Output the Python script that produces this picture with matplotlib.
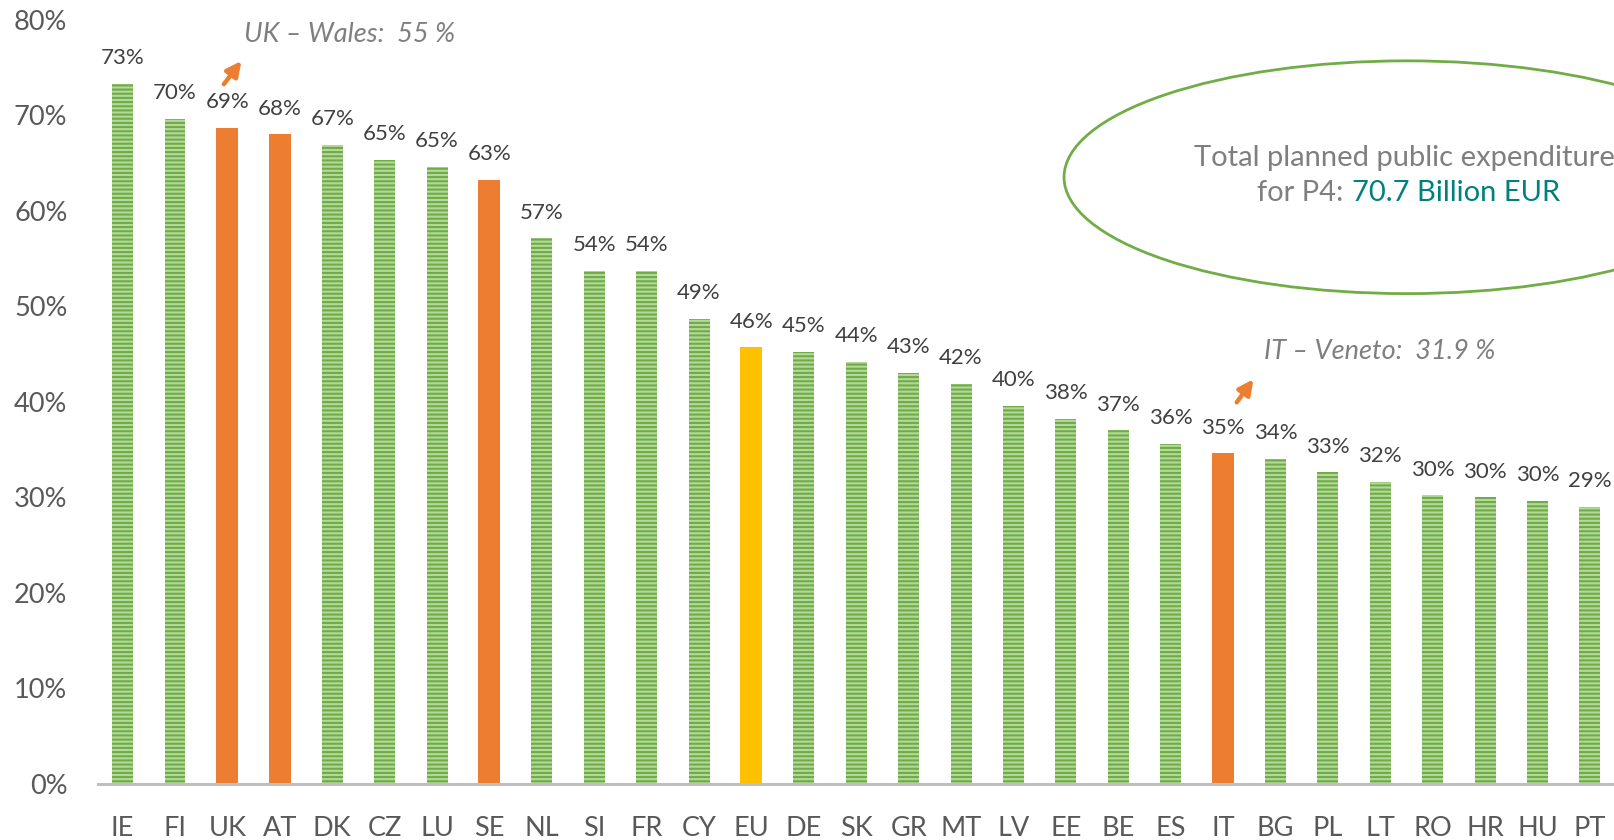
import matplotlib
matplotlib.use("Agg")
import matplotlib.pyplot as plt
from matplotlib.patches import Ellipse

plt.rcParams['font.family'] = ['Lato', 'DejaVu Sans']
plt.rcParams['hatch.linewidth'] = 1.5

countries = ['IE', 'FI', 'UK', 'AT', 'DK', 'CZ', 'LU', 'SE', 'NL', 'SI', 'FR', 'CY', 'EU', 'DE',
             'SK', 'GR', 'MT', 'LV', 'EE', 'BE', 'ES', 'IT', 'BG', 'PL', 'LT', 'RO', 'HR', 'HU', 'PT']
shares = [73.3, 69.6, 68.7, 68.0, 66.9, 65.3, 64.6, 63.2, 57.1, 53.7, 53.7, 48.7, 45.7, 45.2,
          44.2, 43.0, 41.9, 39.6, 38.2, 37.0, 35.6, 34.6, 34.0, 32.6, 31.6, 30.2, 30.0, 29.6, 29.0]
orange_set = ['UK', 'AT', 'SE', 'IT']
yellow_set = ['EU']
yticks = [0, 10, 20, 30, 40, 50, 60, 70, 80]

green_face = '#b4d89c'
green_hatch = '#6fac46'
orange = '#ed7d31'
yellow = '#ffc000'

fig = plt.figure(figsize=(16.14, 8.4), dpi=100)
ax = fig.add_axes([0.0607, 0.0667, 0.9393, 0.91])

x = list(range(len(countries)))
for i, (c, v) in enumerate(zip(countries, shares)):
    if c in orange_set:
        ax.bar(i, v, width=0.42, color=orange, linewidth=0)
    elif c in yellow_set:
        ax.bar(i, v, width=0.42, color=yellow, linewidth=0)
    else:
        ax.bar(i, v, width=0.40, facecolor=green_face, edgecolor=green_hatch,
               hatch='----', linewidth=0)
    ax.annotate(f"{v:.0f}%", (i, v), xytext=(0, 18.5), textcoords='offset points',
                ha='center', va='center', fontsize=16, color='#404040')

ax.set_xlim(-0.47, 28.46)
ax.set_ylim(0, 80)
ax.set_xticks(x)
ax.set_xticklabels(countries, fontsize=19.5, color='#595959')
ax.set_yticks(yticks)
ax.set_yticklabels([f"{t}%" for t in yticks], fontsize=19.5, color='#595959')
ax.tick_params(axis='both', length=0)
ax.tick_params(axis='y', pad=22)
ax.tick_params(axis='x', pad=23)
for s in ['top', 'right', 'left']:
    ax.spines[s].set_visible(False)
ax.spines['bottom'].set_color('#bfbfbf')
ax.spines['bottom'].set_linewidth(2.2)

# region notes
arrow = dict(arrowstyle='-|>', color=orange, lw=3.2, mutation_scale=22)
ax.annotate('', xy=(2.30, 75.9), xytext=(1.90, 73.0), arrowprops=arrow)
ax.text(2.32, 78.4, 'UK – Wales:  55 %', style='italic', fontsize=19.5, color='#7f7f7f',
        ha='left', va='center')
ax.annotate('', xy=(21.61, 42.6), xytext=(21.23, 39.7), arrowprops=arrow)
ax.text(21.78, 45.3, 'IT – Veneto:  31.9 %', style='italic', fontsize=19.5, color='#7f7f7f',
        ha='left', va='center')

# ellipse callout
ax.add_patch(Ellipse((24.51, 63.5), 13.09, 24.36, fill=False, edgecolor='#70ad47', linewidth=2))
ax.text(20.45, 65.5, 'Total planned public expenditure', fontsize=21, color='#7f7f7f',
        ha='left', va='center')
ax.text(23.43, 61.9, 'for P4: ', fontsize=21, color='#7f7f7f', ha='right', va='center')
ax.text(23.46, 61.9, '70.7 Billion EUR', fontsize=21, color='#00807f', ha='left', va='center')

fig.savefig('out.png', dpi=100)
